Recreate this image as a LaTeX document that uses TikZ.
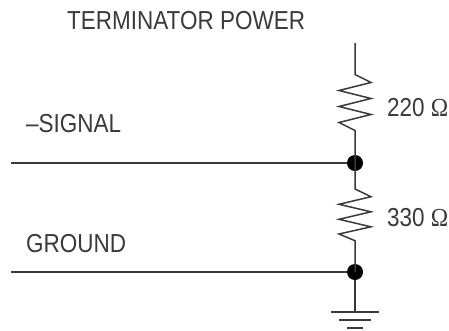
\documentclass[tikz,border=0pt]{standalone}
\usepackage{fontspec}
\setmainfont[FakeStretch=0.865]{Liberation Sans}
\newfontfamily\omegafont[FakeStretch=0.9]{Liberation Serif}
\definecolor{ink}{HTML}{3A3A3A}
\tikzset{
  wire/.style={draw=ink,line width=1.5pt,line join=miter},
  dotnode/.style={circle,fill=black,inner sep=0pt,minimum size=16pt},
  lbl/.style={inner sep=0pt,text=ink,font=\fontsize{26}{28}\selectfont,anchor=base west},
}
\begin{document}
\begin{tikzpicture}[x=1pt,y=-1pt]
\useasboundingbox (0,0) rectangle (449,330);
\coordinate (top) at (355,43);
\coordinate (gnd) at (355,312);
\coordinate (sigL) at (11,163);
\coordinate (gndL) at (11,272);
\node[dotnode] (j1) at (355,163) {};
\node[dotnode] (j2) at (355,272) {};
\draw[wire] (top) -- (355,74.5) -- (371,82.5) -- (339,90.5) -- (371,98.5) -- (339,106.5) -- (371,114.5) -- (339,122.5) -- (355,130.5) -- (j1.center);
\draw[wire] (j1.center) -- (355,189) -- (371,196.7) -- (339,204.3) -- (371,211.8) -- (339,219.3) -- (371,226.8) -- (339,234) -- (355,240.7) -- (j2.center);
\draw[wire] (sigL) -- (j1);
\draw[wire] (gndL) -- (j2);
\draw[wire] (j2) -- (gnd);
\coordinate (b1l) at (331,312); \coordinate (b1r) at (379,312);
\coordinate (b2l) at (339,320); \coordinate (b2r) at (371,320);
\coordinate (b3l) at (347,328); \coordinate (b3r) at (363,328);
\draw[wire] (b1l) -- (b1r);
\draw[wire] (b2l) -- (b2r);
\draw[wire] (b3l) -- (b3r);
\node[lbl] (tp) at (67,29.5) {TERMINATOR POWER};
\node[lbl] (sg) at (26,132.5) {–SIGNAL};
\node[lbl] (gr) at (26,252) {GROUND};
\node[lbl] (r1) at (387,116.7) {220 {\omegafont Ω}};
\node[lbl] (r2) at (387,226.7) {330 {\omegafont Ω}};
\end{tikzpicture}
\end{document}
